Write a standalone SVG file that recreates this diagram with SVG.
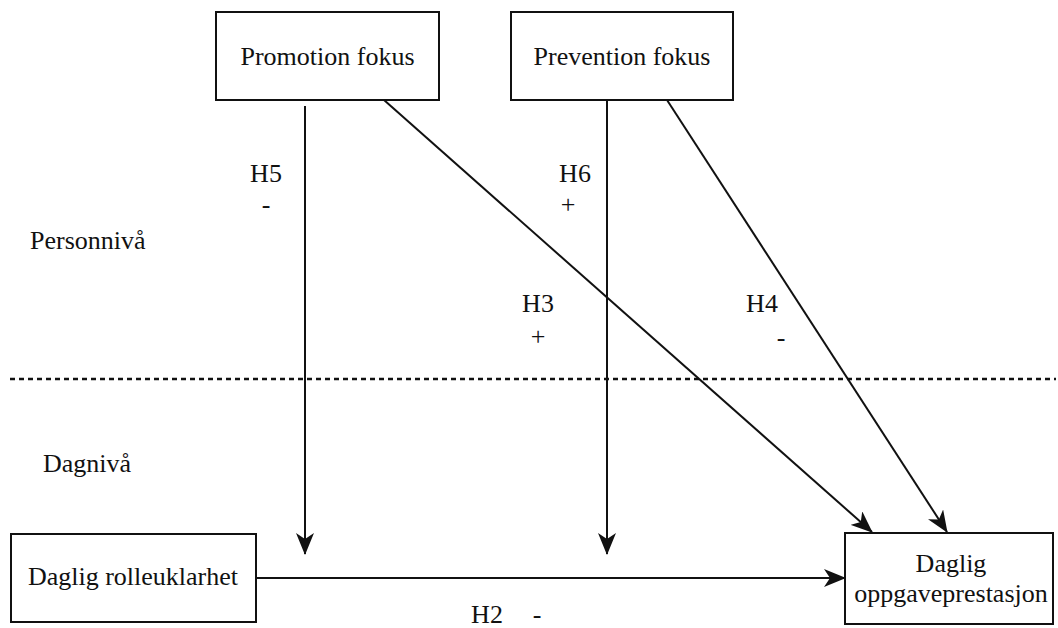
<svg xmlns="http://www.w3.org/2000/svg" width="1058" height="628" viewBox="0 0 1058 628">
<style>
text{font-family:"Liberation Serif","Times New Roman",serif;font-size:26px;fill:#111}
.box{fill:#fff;stroke:#111;stroke-width:2}
.ln{stroke:#111;stroke-width:2;fill:none}
</style>
<defs>
<marker id="ah" viewBox="0 0 22 18" refX="21" refY="9" markerWidth="22" markerHeight="18" markerUnits="userSpaceOnUse" orient="auto">
<path d="M0,0 L22,9 L0,18 L6,9 Z" fill="#111"/>
</marker>
</defs>
<rect width="1058" height="628" fill="#fff"/>
<g id="labels">
<text x="30" y="249">Personnivå</text>
<text x="43" y="472">Dagnivå</text>
</g>
<line x1="10" y1="379" x2="1056" y2="379" stroke="#111" stroke-width="2.5" stroke-dasharray="5,4"/>
<g id="connectors">
<line class="ln" x1="305" y1="106" x2="305" y2="554" marker-end="url(#ah)"/>
<line class="ln" x1="607" y1="101" x2="607" y2="554" marker-end="url(#ah)"/>
<line class="ln" x1="384" y1="100" x2="872" y2="532" marker-end="url(#ah)"/>
<line class="ln" x1="667" y1="100" x2="947" y2="532" marker-end="url(#ah)"/>
<line class="ln" x1="256" y1="578" x2="845" y2="578" marker-end="url(#ah)"/>
<text x="266" y="182" text-anchor="middle">H5</text>
<text x="266" y="213" text-anchor="middle">-</text>
<text x="575" y="182" text-anchor="middle">H6</text>
<text x="568" y="213" text-anchor="middle">+</text>
<text x="538" y="312" text-anchor="middle">H3</text>
<text x="538" y="345" text-anchor="middle">+</text>
<text x="762" y="312" text-anchor="middle">H4</text>
<text x="781" y="346" text-anchor="middle">-</text>
<text x="487" y="623" text-anchor="middle">H2</text>
<text x="537" y="623" text-anchor="middle">-</text>
</g>
<g id="promotion">
<rect class="box" x="216" y="12" width="223" height="88"/>
<text x="327.5" y="65" text-anchor="middle">Promotion fokus</text>
</g>
<g id="prevention">
<rect class="box" x="511" y="12" width="222" height="88"/>
<text x="622" y="65" text-anchor="middle">Prevention fokus</text>
</g>
<g id="rolleuklarhet">
<rect class="box" x="11" y="534" width="245" height="88"/>
<text x="133" y="585" text-anchor="middle">Daglig rolleuklarhet</text>
</g>
<g id="oppgaveprestasjon">
<rect class="box" x="845" y="533" width="208" height="91"/>
<text x="951" y="572" text-anchor="middle">Daglig</text>
<text x="951" y="602" text-anchor="middle">oppgaveprestasjon</text>
</g>
</svg>
